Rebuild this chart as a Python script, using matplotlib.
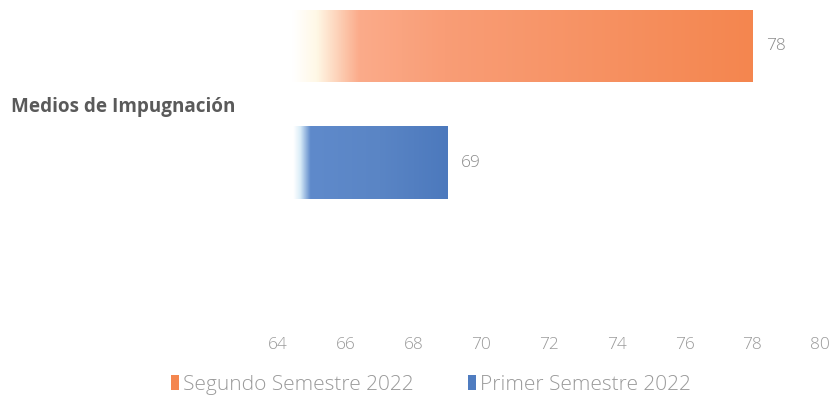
import matplotlib.pyplot as plt
import numpy as np
from matplotlib.colors import LinearSegmentedColormap
from matplotlib.patches import Patch

plt.rcParams['font.family'] = ['Open Sans', 'DejaVu Sans']

# data
category = 'Medios de Impugnación'
series = ['Segundo Semestre 2022', 'Primer Semestre 2022']
values = [78, 69]
colors = ['#f4864f', '#4f7cc0']
xticks = [64, 66, 68, 70, 72, 74, 76, 78, 80]

# gradient stops (fraction of bar span, colour)
grad_stops = [
    [(0.0, '#ffffff'), (0.03, '#ffffff'), (0.08, '#fff8e6'), (0.17, '#fbab8a'),
     (0.35, '#f99d76'), (1.0, '#f4864f')],
    [(0.0, '#ffffff'), (0.09, '#ffffff'), (0.13, '#d9ecf8'), (0.19, '#5f8acb'),
     (0.6, '#5a85c5'), (1.0, '#4c79bd')],
]

fig = plt.figure(figsize=(8.35, 4.04), dpi=100)
ax = fig.add_axes([0.333, 0.183, 0.649, 0.815])

xmin, xmax = xticks[0], xticks[-1]
ypos = [1, 0]
h = 0.62
for y, v, c, stops in zip(ypos, values, colors, grad_stops):
    bar = ax.barh(y, v, height=h, color='none', edgecolor='none')[0]
    cmap = LinearSegmentedColormap.from_list('g', stops)
    grad = np.linspace(0, 1, 256).reshape(1, -1)
    im = ax.imshow(grad, cmap=cmap, aspect='auto',
                   extent=(xmin, v, y - h / 2, y + h / 2), zorder=2)
    im.set_clip_path(bar)
    ax.text(v + 0.4, y, str(v), va='center', ha='left', fontsize=12.5,
            color='#8a8a8a', fontweight='light')

ax.set_xlim(xmin, xmax)
ax.set_ylim(-1.44, 1.39)
ax.set_xticks(xticks)
ax.set_xticklabels([str(t) for t in xticks], fontsize=12.5, color='#9a9a9a',
                   fontweight='light')
ax.set_yticks([0.5])
ax.set_yticklabels([category], fontsize=13.6, fontweight='bold', color='#5a5a5a')
ax.tick_params(axis='both', length=0)
ax.tick_params(axis='y', pad=31)
ax.tick_params(axis='x', pad=5)
for s in ax.spines.values():
    s.set_visible(False)

handles = [Patch(facecolor=c, edgecolor='none') for c in colors]
fig.legend(handles, series, loc='center', bbox_to_anchor=(0.516, 0.047),
           ncol=2, frameon=False, handlelength=0.4,
           handleheight=0.7, handletextpad=0.2, columnspacing=2.6,
           labelcolor='#9a9a9a', prop={'weight': 'light', 'size': 15})

fig.savefig('out.png', dpi=100)
